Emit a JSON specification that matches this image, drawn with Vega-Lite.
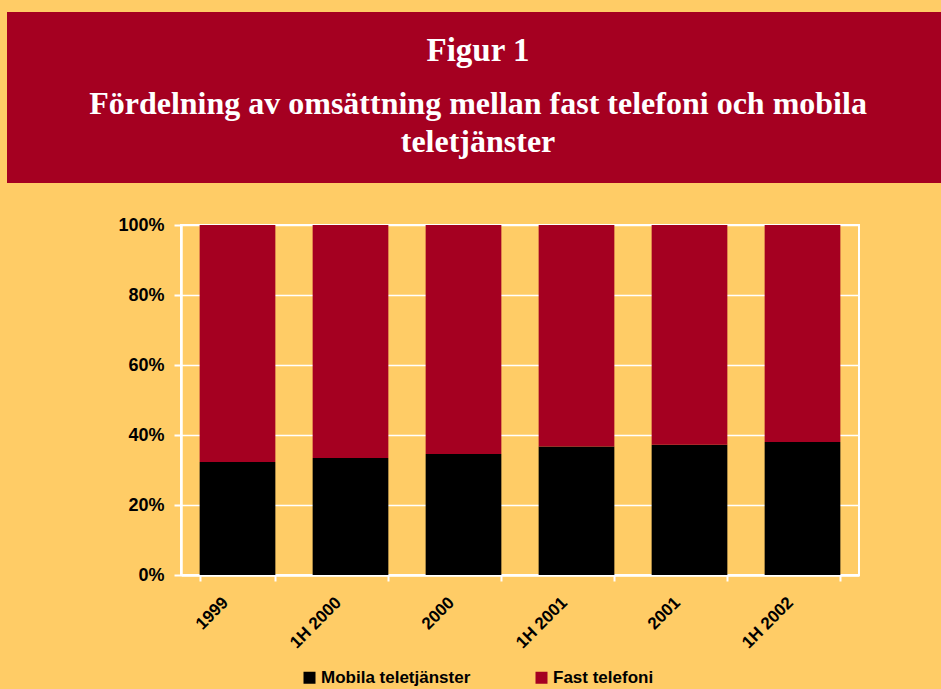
{
  "$schema": "https://vega.github.io/schema/vega-lite/v6.json",
  "background": "#FFCC66",
  "padding": {"left": 7, "top": 12, "right": 0, "bottom": 10},
  "spacing": 32,
  "config": {
    "font": "Liberation Sans"
  },
  "resolve": {"scale": {"color": "independent"}, "legend": {"color": "independent"}},
  "vconcat": [
    {
      "width": 934,
      "height": 171,
      "view": {"fill": "#A50021", "stroke": null},
      "title": {
        "text": "Figur 1",
        "subtitle": ["Fördelning av omsättning mellan fast telefoni och mobila", "teletjänster"],
        "font": "Liberation Serif",
        "fontSize": 33,
        "fontWeight": "bold",
        "color": "#FFFFFF",
        "subtitleFont": "Liberation Serif",
        "subtitleFontSize": 32,
        "subtitleFontWeight": "bold",
        "subtitleColor": "#FFFFFF",
        "subtitlePadding": 21,
        "subtitleLineHeight": 38,
        "anchor": "middle",
        "frame": "group",
        "dx": 4,
        "offset": -146
      },
      "data": {"values": []},
      "mark": "text",
      "encoding": {}
    },
    {
      "spacing": 0,
      "resolve": {"scale": {"color": "independent"}, "legend": {"color": "independent"}},
      "hconcat": [
        {
          "width": 1,
          "height": 1,
          "view": {"fill": null, "stroke": null},
          "data": {"values": []},
          "mark": "point",
          "encoding": {}
        },
        {
          "width": 678,
          "height": 350,
          "view": {"fill": null, "stroke": "#FFFFFF", "strokeWidth": 2},
          "data": {
            "values": [
              {"period": "1999", "serie": "Mobila teletjänster", "andel": 32.3},
              {"period": "1999", "serie": "Fast telefoni", "andel": 67.7},
              {"period": "1H 2000", "serie": "Mobila teletjänster", "andel": 33.4},
              {"period": "1H 2000", "serie": "Fast telefoni", "andel": 66.6},
              {"period": "2000", "serie": "Mobila teletjänster", "andel": 34.6},
              {"period": "2000", "serie": "Fast telefoni", "andel": 65.4},
              {"period": "1H 2001", "serie": "Mobila teletjänster", "andel": 36.7},
              {"period": "1H 2001", "serie": "Fast telefoni", "andel": 63.3},
              {"period": "2001", "serie": "Mobila teletjänster", "andel": 37.2},
              {"period": "2001", "serie": "Fast telefoni", "andel": 62.8},
              {"period": "1H 2002", "serie": "Mobila teletjänster", "andel": 38.0},
              {"period": "1H 2002", "serie": "Fast telefoni", "andel": 62.0}
            ]
          },
          "mark": {"type": "bar"},
          "encoding": {
            "x": {
              "field": "period",
              "type": "nominal",
              "sort": null,
              "scale": {"paddingInner": 0.33, "paddingOuter": 0.165},
              "axis": {
                "title": null,
                "labelAngle": -45,
                "labelFont": "Liberation Sans",
                "labelFontWeight": "bold",
                "labelFontSize": 17,
                "labelColor": "#000000",
                "labelPadding": 13,
                "labelOffset": -18,
                "tickBand": "extent",
                "tickColor": "#FFFFFF",
                "tickWidth": 2,
                "tickSize": 6,
                "domainColor": "#FFFFFF",
                "domainWidth": 2.5,
                "grid": false
              }
            },
            "y": {
              "field": "andel",
              "type": "quantitative",
              "stack": "normalize",
              "scale": {"domain": [0, 1]},
              "axis": {
                "title": null,
                "values": [0, 0.2, 0.4, 0.6, 0.8, 1],
                "format": ".0%",
                "labelFont": "Liberation Sans",
                "labelFontWeight": "bold",
                "labelFontSize": 18,
                "labelColor": "#000000",
                "labelPadding": 10,
                "tickColor": "#FFFFFF",
                "tickWidth": 2,
                "tickSize": 7,
                "domainColor": "#FFFFFF",
                "domainWidth": 2.5,
                "grid": true,
                "gridColor": "#FFFFFF",
                "gridWidth": 1.6,
                "minExtent": 172
              }
            },
            "color": {
              "field": "serie",
              "type": "nominal",
              "scale": {"domain": ["Mobila teletjänster", "Fast telefoni"], "range": ["#000000", "#A50021"]},
              "legend": {
                "title": null,
                "orient": "none",
                "direction": "horizontal",
                "legendX": 120,
                "legendY": 444,
                "symbolType": "square",
                "symbolSize": 144,
                "symbolStrokeWidth": 0,
                "symbolOpacity": 1,
                "labelFont": "Liberation Sans",
                "labelFontWeight": "bold",
                "labelFontSize": 17,
                "labelColor": "#000000",
                "labelOffset": 3,
                "columnPadding": 62,
                "padding": 0
              }
            },
            "order": {"field": "serie", "sort": "descending"}
          }
        }
      ]
    }
  ]
}
